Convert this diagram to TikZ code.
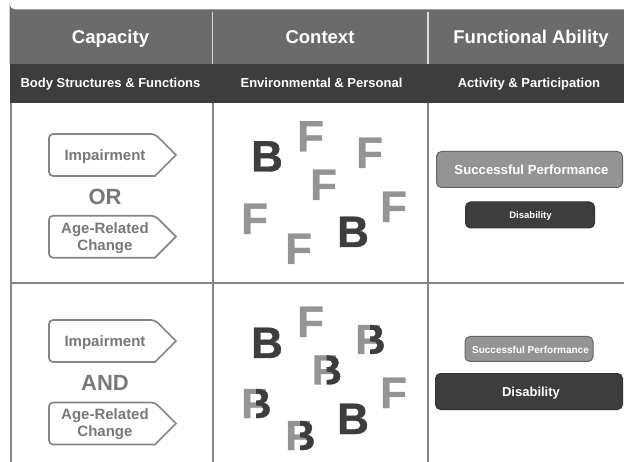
\documentclass[tikz,border=0pt]{standalone}
\usepackage{fontspec}
\setmainfont{Liberation Sans}
\newfontface\heavyface{Liberation Sans Bold}[FakeBold=0.9]
\definecolor{hdr}{gray}{0.42}
\definecolor{dk}{gray}{0.24}
\definecolor{mid}{gray}{0.58}
\definecolor{ln}{gray}{0.52}
\definecolor{txtg}{gray}{0.47}
\newcommand{\pxfont}[1]{\fontsize{#1}{#1}\selectfont\bfseries}
\newcommand{\bigfont}[1]{\fontsize{#1}{#1}\selectfont\heavyface}
\tikzset{x=1pt,y=-1pt,
 head/.style={text=white,font=\pxfont{18.5},anchor=base,inner sep=0},
 sub/.style={text=white,font=\pxfont{13},anchor=base,inner sep=0},
 tagbox/.style={draw=ln,line width=1.7pt,rounded corners=4pt,fill=white},
 tagtext/.style={text=txtg,font=\pxfont{15},anchor=base,inner sep=0},
 tagtwo/.style={text=txtg,font={\fontsize{15}{16.5}\selectfont\bfseries},align=center,inner sep=0},
 logic/.style={text=txtg,font=\pxfont{22},anchor=base,inner sep=0},
 ltrF/.style={text=mid,font=\bigfont{44},inner sep=0,anchor=base west},
 ltrB/.style={text=dk,font=\bigfont{44},inner sep=0,anchor=base west},
 cmpF/.style={text=mid,font=\bigfont{42},inner sep=0,anchor=base west},
 cmpB/.style={text=dk,font=\bigfont{42},inner sep=0,anchor=base west},
 good/.style={draw=black!60,fill=mid,rounded corners=5pt,line width=1pt},
 bad/.style={draw=black!80,fill=dk,rounded corners=5pt,line width=1pt},
 boxlabel/.style={text=white,inner sep=0,anchor=base},
 rule/.style={ln,line width=1.7pt}}
\newcommand{\tagshape}[1]{%
 \draw[tagbox] (49,#1-21) -- (155,#1-21) [sharp corners] -- (176,#1) -- (155,#1+21) [rounded corners=4pt] -- (49,#1+21) -- cycle;}
% name, ink left x, baseline y
\newcommand{\fb}[3]{%
 \node[cmpF] (#1f) at (#2-3,#3) {F};
 \begin{scope}
 \clip (#2+12,#3-34) rectangle (#2+32,#3+4);
 \node[cmpB] (#1b) at (#2-3,#3) {B};
 \end{scope}}
\begin{document}
\begin{tikzpicture}
\useasboundingbox (0,0) rectangle (624,462);
\fill[white] (0,0) rectangle (624,462);
% header
\fill[hdr] (624,9.5) -- (15,9.5) arc[start angle=90,end angle=180,radius=5.5] -- (9.5,64.3) -- (624,64.3) -- cycle;
\fill[dk] (10,64.3) rectangle (624,103);
% rules
\draw[rule] (10.7,103) -- (10.7,462);
\draw[rule] (212.7,103) -- (212.7,462);
\draw[rule] (428,103) -- (428,462);
\draw[rule] (10.7,282.7) -- (624,282.7);
\draw[black!15!white,line width=1.2pt] (212.7,12) -- (212.7,64);
\draw[black!15!white,line width=1.2pt] (428,12) -- (428,64);
\node[head] (h1) at (110.5,43.5) {Capacity};
\node[head] (h2) at (320,43.5) {Context};
\node[head] (h3) at (531,43.5) {Functional Ability};
\node[sub] (s1) at (110.5,87.5) {Body Structures \& Functions};
\node[sub] (s2) at (321.5,87.5) {Environmental \& Personal};
\node[sub] (s3) at (529,87.5) {Activity \& Participation};
% row 1 left
\tagshape{155}
\node[tagtext] (i1) at (105,161) {Impairment};
\node[logic] (or) at (105,204.5) {OR};
\tagshape{236.7}
\node[tagtwo] (a1) at (105,238) {Age-Related\\Change};
% row 2 left
\tagshape{341}
\node[tagtext] (i2) at (105,346.5) {Impairment};
\node[logic] (and) at (105,390.5) {AND};
\tagshape{423.5}
\node[tagtwo] (a2) at (105,424) {Age-Related\\Change};
% row 1 letters
\node[ltrB] (b1) at (251,171.5) {B};
\node[ltrF] (f1) at (297,151.5) {F};
\node[ltrF] (f2) at (356,168) {F};
\node[ltrF] (f3) at (310,200) {F};
\node[ltrF] (f4) at (241,234) {F};
\node[ltrF] (f5) at (380,222) {F};
\node[ltrF] (f6) at (285,264) {F};
\node[ltrB] (b2) at (337,247) {B};
% row 2 letters
\node[ltrB] (b3) at (251,358) {B};
\node[ltrF] (f7) at (297,337) {F};
\fb{c1}{358}{354}
\fb{c2}{314.5}{384.5}
\node[ltrF] (f8) at (380,408) {F};
\fb{c3}{244}{418}
\fb{c4}{288}{450}
\node[ltrB] (b4) at (337,434) {B};
% right column
\node[good,minimum width=186pt,minimum height=36pt] (p1) at (529.5,169.5) {};
\node[boxlabel,font=\pxfont{13.2}] (p1t) at (531.5,174.3) {Successful Performance};
\node[bad,minimum width=129pt,minimum height=26pt] (d1) at (530,215) {};
\node[boxlabel,font=\pxfont{9.5}] (d1t) at (530.5,219) {Disability};
\node[good,minimum width=128pt,minimum height=25pt] (p2) at (529,349) {};
\node[boxlabel,font=\pxfont{10}] (p2t) at (530.5,353) {Successful Performance};
\node[bad,minimum width=187pt,minimum height=36pt] (d2) at (529,391.5) {};
\node[boxlabel,font=\pxfont{13}] (d2t) at (531,396.3) {Disability};
\end{tikzpicture}
\end{document}
